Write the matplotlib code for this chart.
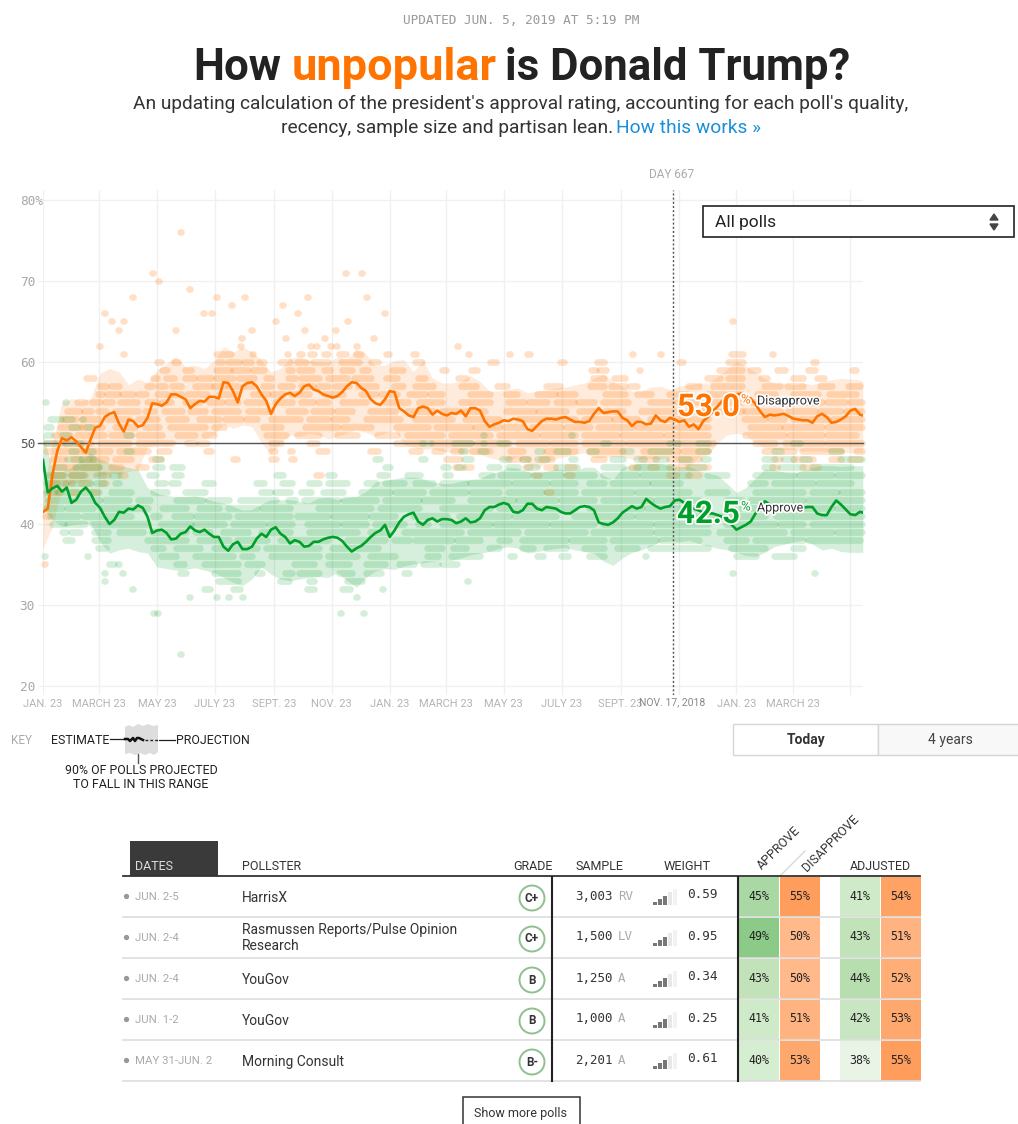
import numpy as np
import matplotlib
matplotlib.use("Agg")
from matplotlib import pyplot as plt
from matplotlib import patheffects as pe
from matplotlib.collections import LineCollection
from matplotlib.colors import LinearSegmentedColormap, Normalize
from matplotlib.patches import Circle, Polygon, Rectangle

# days since Jan. 23, 2017
line_days = list(range(0, 865, 5)) + [863]
disapprove = [41.5, 41.9, 46.1, 49.0, 50.6, 50.3, 50.7, 50.2, 49.5, 48.8, 50.4, 51.9, 52.1, 53.2, 53.6, 53.8, 52.4, 51.4, 52.9, 52.7,
              52.0, 52.2, 53.1, 54.9, 54.8, 54.6, 55.0, 56.0, 56.0, 55.7, 55.4, 54.3, 54.8, 55.2, 55.1, 55.7, 55.7, 55.5, 57.5, 57.4,
              56.4, 55.0, 57.0, 57.4, 57.5, 57.0, 56.0, 55.2, 53.6, 54.8, 55.5, 56.0, 56.2, 55.8, 56.2, 57.0, 57.2, 56.6, 56.4, 56.0,
              55.8, 55.6, 55.8, 56.3, 57.0, 57.5, 57.4, 56.8, 56.4, 55.4, 54.9, 54.7, 55.4, 56.4, 56.3, 54.3, 53.9, 53.4, 53.2, 54.3,
              54.5, 54.3, 53.5, 54.0, 53.6, 53.4, 53.7, 53.6, 54.0, 53.3, 54.3, 54.3, 54.0, 52.7, 52.0, 52.3, 52.5, 52.8, 52.7, 53.0,
              52.9, 52.7, 51.7, 51.5, 52.1, 52.7, 53.0, 53.0, 52.9, 53.1, 53.2, 52.9, 52.6, 52.6, 52.5, 52.7, 53.6, 54.3, 53.7, 53.8,
              53.9, 53.9, 53.1, 52.8, 52.1, 52.6, 52.6, 52.3, 52.4, 53.4, 52.8, 52.6, 53.1, 52.9, 52.6, 52.8, 52.0, 52.3, 51.7, 52.7,
              53.2, 53.9, 54.5, 55.2, 55.6, 55.8, 56.0, 56.1, 55.8, 55.5, 54.8, 53.9, 53.2, 53.5, 53.4, 53.5, 53.6, 53.3, 53.0, 52.9,
              52.8, 52.8, 52.5, 53.3, 53.6, 53.2, 52.5, 52.6, 52.9, 53.3, 54.0, 54.2, 53.5, 53.4]
approve = [47.9, 43.9, 44.4, 44.7, 44.0, 44.5, 42.6, 43.0, 44.0, 44.5, 43.8, 42.6, 42.0, 40.9, 40.0, 40.5, 41.5, 41.4, 41.9, 41.8,
           42.3, 42.0, 40.9, 38.9, 39.2, 39.3, 38.9, 38.1, 38.2, 38.8, 39.0, 39.7, 39.2, 39.0, 39.3, 38.8, 38.4, 38.4, 37.2, 36.7,
           37.5, 37.8, 36.9, 36.9, 37.2, 38.2, 38.8, 38.4, 39.3, 39.6, 38.8, 38.4, 37.6, 38.0, 37.8, 37.2, 37.3, 37.8, 37.8, 38.1,
           38.3, 38.4, 38.3, 37.9, 37.2, 36.6, 37.0, 37.3, 37.8, 38.4, 38.9, 39.2, 39.9, 38.4, 39.2, 40.2, 40.9, 41.2, 41.4, 40.3,
           39.9, 40.5, 40.7, 40.3, 40.6, 40.6, 40.5, 40.1, 40.3, 40.7, 40.2, 40.3, 40.7, 41.7, 42.1, 42.1, 42.4, 42.6, 42.4, 41.5,
           41.4, 41.7, 42.5, 42.5, 41.9, 41.7, 42.1, 42.0, 41.9, 41.5, 41.3, 41.3, 41.7, 42.1, 42.2, 42.1, 41.7, 40.2, 40.0, 39.9,
           40.2, 40.7, 41.4, 41.8, 42.2, 41.9, 42.1, 43.1, 42.6, 42.2, 41.9, 42.1, 42.2, 42.9, 43.0, 42.6, 42.2, 41.9, 41.7, 41.4,
           41.3, 41.3, 41.1, 40.9, 40.5, 39.9, 39.3, 39.6, 39.9, 40.3, 41.3, 42.1, 42.8, 42.4, 42.1, 41.9, 41.9, 41.9, 41.9, 41.9,
           42.0, 42.1, 42.1, 41.3, 41.1, 41.1, 42.1, 42.9, 42.4, 41.8, 41.2, 41.1, 41.5, 41.4]

band_days = list(range(0, 865, 10)) + [863]
disapprove_hi = [44, 50, 55, 55.5, 55.2, 55.5, 58.6, 59.2, 58.8, 57.2, 57.9, 57.4, 59, 59.8, 60.7, 59.4, 59.6, 59.2, 60.2, 61.9,
                 61.2, 61.8, 61.3, 60.2, 58.8, 59.2, 60.5, 60.6, 60.2, 60, 60, 60.6, 60.4, 61.6, 61, 59.5, 59.6, 60.2, 60.3, 58.8,
                 60.2, 58, 57.4, 57.4, 57.6, 58.3, 57.6, 56.4, 56.4, 56.6, 56.8, 56.2, 56.4, 56.6, 56.8, 56.9, 57.2, 57.4, 58, 58.5,
                 57.6, 57, 56.4, 56.4, 56.9, 57, 56.6, 57, 57.2, 57.4, 57.4, 58.2, 59.1, 60.1, 59.5, 58.7, 57.9, 57.4, 57.4, 57.2,
                 57.4, 57.2, 57.6, 57.8, 58, 57.9, 57.8, 57.5]
disapprove_lo = [37, 39.7, 44.5, 45, 45.3, 45.5, 46, 46.3, 46.2, 46.5, 46.7, 49.5, 49.8, 49.6, 50, 50.2, 50.4, 50.5, 51, 52.3,
                 51.8, 52.2, 52, 50, 48.7, 50, 51, 50.8, 51.2, 51, 50.5, 50.8, 51.2, 51.7, 51.3, 50.8, 51.2, 51.6, 49.8, 49.5,
                 49.2, 49.3, 49, 48.8, 48.8, 48.6, 48.6, 48.2, 47.9, 47.9, 48.3, 47.6, 46.8, 47.6, 48.1, 48.3, 48.6, 48.8, 48.2, 48.2,
                 48.3, 48.3, 48, 48, 48.1, 48, 48.4, 47.5, 47.1, 48.2, 48.6, 50, 51, 51.2, 51, 50, 49.4, 49.2, 49.2, 49.2,
                 49, 49, 49, 48.9, 48.8, 48.8, 48.8, 48.8]
approve_hi = [51.2, 46.5, 46.5, 47, 47.8, 48.8, 48, 47.5, 47.2, 47, 46.7, 44.5, 43.8, 43.5, 43.4, 43.4, 43.5, 43.2, 42.8, 42.6,
              42.2, 41.7, 41.8, 42.5, 43, 43, 43, 42.8, 42.6, 43.2, 43.3, 43, 43.3, 43.4, 44, 45.2, 45.4, 45.6, 45.8, 45.8,
              45.6, 45.2, 45, 45, 45.3, 45.5, 45.6, 46.2, 46.5, 47, 46.9, 46.5, 46.3, 46.5, 46.8, 46.7, 46.6, 47, 47, 46,
              45.5, 47, 47.3, 47.5, 47.5, 47.5, 47.2, 47.1, 47.1, 46.6, 46.3, 46, 45, 43.9, 44.5, 45.7, 46.8, 46.7, 46.4, 46.3,
              46.6, 47, 47.2, 47.2, 47.1, 47.2, 47.2, 47.2]
approve_lo = [42, 40.5, 39.7, 39.9, 40, 40.1, 37.8, 36.4, 36.8, 37, 36.6, 36.4, 34.7, 34.5, 34.3, 34.4, 34.6, 34.3, 34, 33.4,
              32.8, 32.4, 33.2, 34.7, 33.8, 33.2, 33, 33.2, 33.4, 33.5, 33.4, 34, 33, 32.2, 33.4, 34.2, 34.5, 34.4, 34.8, 35.1,
              35.2, 35.4, 35.5, 35.5, 35.8, 36.2, 36.4, 36.6, 37, 37.2, 37, 36.4, 36.6, 36.8, 37, 37.1, 36.8, 36.6, 36.4, 35.4,
              34.9, 35.8, 36.5, 36.8, 37.3, 37.8, 37.9, 37.8, 38, 37.6, 37.3, 37, 36.8, 36.5, 36.1, 36, 36.5, 37.2, 37.5, 37.8,
              38, 37.5, 36.8, 37, 36.6, 36.5, 36.5, 36.5]

# polls sit on whole percentages and merge into pills: (level, [(first day, last day), ...])
disapprove_polls = [
    (76, [(145, 145)]),
    (71, [(115, 115), (318, 318), (335, 335)]),
    (70, [(122, 122)]),
    (69, [(154, 154), (160, 160)]),
    (68, [(94, 94), (183, 183), (212, 212), (278, 278), (341, 341)]),
    (67, [(198, 198), (252, 252)]),
    (66, [(65, 65), (169, 169), (177, 177), (268, 268), (359, 359)]),
    (65, [(72, 72), (85, 85), (245, 245), (321, 321), (726, 726)]),
    (64, [(79, 79), (139, 139), (219, 219), (275, 275), (308, 308)]),
    (63, [(209, 209), (255, 255), (296, 296), (348, 348)]),
    (62, [(59, 59), (208, 208), (282, 282), (288, 288), (303, 303), (309, 309), (330, 330), (436, 436)]),
    (61, [(85, 85), (183, 197), (221, 221), (257, 257), (270, 272), (282, 285), (296, 300), (312, 318), (330, 334), (362, 364), (390, 392), (448, 448), (491, 491), (510, 512), (621, 621), (650, 650), (725, 736), (768, 768)]),
    (60, [(121, 124), (138, 142), (185, 188), (195, 206), (212, 218), (228, 232), (250, 260), (268, 276), (285, 300), (314, 332), (346, 352), (392, 398), (471, 476), (545, 548), (584, 590), (670, 673), (722, 736), (811, 813)]),
    (59, [(126, 130), (150, 155), (183, 196), (200, 215), (222, 232), (258, 262), (270, 283), (296, 302), (315, 325), (336, 342), (368, 378), (420, 424), (451, 456), (577, 582), (586, 592), (628, 628), (712, 735), (745, 752), (773, 781), (806, 812), (852, 855)]),
    (58, [(46, 53), (116, 120), (130, 137), (150, 158), (165, 176), (183, 200), (207, 222), (235, 240), (258, 265), (272, 290), (300, 320), (328, 345), (362, 372), (395, 402), (437, 445), (580, 590), (602, 612), (700, 712), (722, 735), (756, 762), (790, 800), (815, 822)]),
    (57, [(60, 66), (72, 80), (110, 114), (122, 128), (136, 145), (160, 176), (180, 190), (195, 205), (212, 222), (232, 240), (250, 262), (272, 284), (290, 300), (308, 322), (332, 350), (370, 378), (392, 410), (440, 455), (478, 488), (530, 544), (576, 590), (598, 612), (618, 625), (680, 690), (706, 735), (760, 775), (784, 800), (818, 830), (848, 860)]),
    (56, [(20, 20), (58, 62), (68, 78), (84, 94), (100, 108), (120, 130), (136, 145), (152, 172), (186, 205), (222, 236), (242, 252), (262, 280), (296, 315), (335, 350), (356, 372), (386, 402), (408, 420), (450, 470), (488, 498), (520, 538), (544, 560), (592, 612), (626, 640), (660, 678), (700, 716), (722, 735), (752, 770), (790, 815), (828, 855)]),
    (55, [(36, 44), (52, 60), (66, 72), (82, 98), (110, 120), (126, 134), (150, 165), (175, 188), (194, 205), (214, 232), (245, 262), (272, 284), (290, 300), (315, 340), (360, 384), (396, 420), (440, 470), (490, 506), (512, 530), (540, 558), (564, 580), (590, 615), (640, 662), (668, 690), (700, 735), (745, 766), (772, 790), (800, 820), (826, 844), (850, 862)]),
    (54, [(26, 38), (44, 50), (58, 66), (76, 100), (108, 116), (128, 146), (155, 170), (180, 205), (216, 240), (258, 275), (285, 304), (310, 325), (345, 370), (384, 410), (420, 440), (446, 465), (488, 516), (522, 550), (565, 585), (592, 610), (630, 665), (680, 706), (712, 735), (740, 775), (785, 812), (818, 840), (846, 862)]),
    (53, [(20, 34), (42, 58), (68, 90), (100, 120), (132, 150), (165, 185), (192, 208), (214, 225), (240, 270), (280, 300), (306, 320), (340, 375), (392, 430), (445, 480), (500, 530), (536, 560), (570, 596), (602, 625), (640, 668), (674, 700), (738, 760), (766, 780), (790, 826), (832, 862)]),
    (52, [(18, 38), (42, 62), (76, 96), (108, 122), (134, 170), (180, 190), (232, 250), (276, 310), (316, 345), (372, 405), (414, 450), (455, 480), (486, 505), (515, 545), (551, 575), (585, 620), (626, 662), (668, 700), (745, 775), (781, 820), (826, 862)]),
    (51, [(12, 28), (36, 64), (72, 92), (100, 125), (142, 160), (170, 180), (235, 255), (268, 290), (310, 330), (352, 372), (384, 420), (430, 470), (480, 520), (526, 560), (570, 604), (610, 650), (656, 700), (740, 780), (786, 820), (826, 855)]),
    (50, [(4, 20), (24, 50), (60, 90), (100, 135), (152, 160), (165, 172), (240, 250), (280, 288), (372, 400), (410, 450), (456, 490), (500, 530), (536, 560), (570, 610), (616, 660), (666, 705), (750, 770), (782, 820), (826, 862)]),
    (49, [(4, 12), (18, 40), (44, 70), (80, 110), (123, 132), (172, 176), (240, 244), (260, 262), (290, 298), (345, 352), (388, 396), (412, 420), (432, 440), (452, 470), (492, 505), (530, 560), (575, 610), (632, 668), (674, 700), (760, 790), (800, 840), (856, 862)]),
    (48, [(10, 22), (32, 48), (52, 66), (76, 92), (114, 124), (200, 204), (240, 245), (262, 264), (425, 438), (490, 500), (505, 510), (525, 535), (580, 590), (630, 645), (660, 690), (770, 775), (790, 810), (830, 840), (850, 860)]),
    (47, [(12, 34), (42, 58), (72, 82), (100, 108), (434, 438), (445, 450), (508, 512), (530, 538), (552, 558), (620, 626), (640, 645), (660, 700), (768, 772), (800, 815)]),
    (46, [(10, 20), (30, 42), (60, 68), (82, 86), (288, 292), (518, 522), (552, 556), (660, 666), (680, 690)]),
    (45, [(10, 14), (24, 30), (40, 48), (62, 66)]),
    (44, [(14, 18), (30, 34), (52, 56), (530, 534)]),
    (41, [(3, 6)]),
    (35, [(2, 2)]),
]
approve_polls = [
    (55, [(3, 3), (24, 24)]),
    (53, [(8, 18), (24, 30), (42, 42)]),
    (52, [(4, 8), (30, 35), (46, 50)]),
    (51, [(4, 8), (20, 26), (88, 92), (464, 464), (556, 556)]),
    (50, [(4, 12), (24, 28), (34, 40), (399, 408), (433, 450), (464, 464), (481, 488), (590, 594), (660, 668), (690, 700), (790, 796)]),
    (49, [(30, 34), (48, 52), (88, 92), (440, 444), (460, 466), (520, 525), (540, 552), (575, 582), (610, 618), (640, 660), (690, 700), (770, 776), (830, 840)]),
    (48, [(26, 38), (40, 52), (118, 124), (350, 354), (398, 402), (444, 450), (484, 490), (505, 510), (520, 530), (556, 560), (600, 610), (625, 632), (645, 655), (672, 680), (695, 700), (760, 770), (780, 790), (800, 806), (840, 862)]),
    (47, [(14, 22), (34, 58), (118, 125), (136, 146), (360, 365), (422, 426), (436, 442), (470, 480), (490, 500), (510, 520), (540, 562), (590, 610), (625, 660), (680, 695), (760, 768), (776, 800), (810, 850)]),
    (46, [(6, 22), (30, 44), (56, 64), (72, 80), (112, 118), (138, 145), (246, 252), (300, 306), (354, 362), (384, 396), (424, 428), (462, 472), (482, 510), (516, 545), (551, 580), (590, 625), (631, 680), (700, 720), (750, 790), (796, 830), (836, 862)]),
    (45, [(4, 24), (30, 50), (56, 64), (76, 80), (120, 128), (135, 142), (170, 178), (225, 232), (252, 262), (280, 290), (300, 320), (340, 350), (360, 380), (392, 410), (420, 445), (450, 490), (496, 530), (536, 560), (575, 590), (600, 636), (642, 670), (745, 760), (770, 810), (816, 850)]),
    (44, [(4, 12), (16, 36), (42, 58), (72, 92), (116, 130), (150, 170), (230, 240), (245, 260), (272, 282), (295, 315), (335, 365), (371, 400), (410, 445), (451, 480), (490, 525), (531, 560), (570, 620), (626, 680), (700, 720), (750, 800), (810, 835), (841, 862)]),
    (43, [(6, 28), (34, 60), (66, 90), (100, 112), (140, 168), (174, 195), (208, 245), (258, 265), (275, 310), (316, 350), (360, 395), (401, 430), (450, 495), (501, 540), (546, 580), (590, 640), (646, 690), (720, 735), (745, 800), (806, 862)]),
    (42, [(4, 20), (26, 52), (60, 110), (126, 150), (165, 185), (195, 225), (231, 260), (290, 345), (355, 395), (420, 470), (480, 520), (526, 560), (575, 630), (636, 700), (735, 790), (796, 830), (836, 862)]),
    (41, [(8, 36), (44, 92), (116, 122), (138, 155), (162, 195), (205, 260), (268, 300), (306, 340), (346, 370), (390, 425), (438, 490), (496, 540), (560, 620), (626, 690), (700, 760), (772, 820), (826, 862)]),
    (40, [(10, 22), (26, 44), (52, 110), (125, 155), (161, 190), (200, 232), (238, 262), (278, 310), (316, 340), (350, 380), (395, 405), (420, 470), (476, 530), (536, 580), (590, 640), (646, 700), (720, 770), (776, 800), (810, 862)]),
    (39, [(20, 24), (30, 38), (54, 68), (80, 105), (115, 150), (160, 175), (190, 215), (230, 260), (280, 330), (345, 362), (380, 440), (450, 500), (510, 570), (580, 640), (646, 700), (712, 780), (790, 830), (836, 862)]),
    (38, [(24, 30), (54, 68), (110, 150), (165, 195), (205, 235), (250, 300), (320, 360), (370, 385), (392, 430), (436, 460), (480, 490), (505, 550), (556, 590), (600, 645), (651, 690), (720, 740), (750, 800), (806, 860)]),
    (37, [(58, 66), (116, 126), (140, 165), (180, 225), (235, 290), (305, 352), (405, 420), (432, 445), (470, 480), (505, 515), (530, 550), (570, 590), (605, 625), (640, 700), (725, 760), (790, 800)]),
    (36, [(2, 2), (47, 47), (125, 140), (160, 200), (210, 220), (240, 290), (300, 330), (345, 370), (405, 415), (430, 460), (492, 495), (520, 526), (546, 552), (575, 590), (634, 634), (730, 750), (770, 790)]),
    (35, [(70, 74), (79, 79), (140, 148), (170, 205), (215, 230), (265, 285), (300, 322), (340, 360), (375, 390), (400, 415), (420, 435)]),
    (34, [(65, 65), (84, 84), (145, 150), (180, 205), (226, 230), (255, 262), (270, 290), (312, 325), (340, 355), (380, 385), (726, 726), (812, 812)]),
    (33, [(65, 65), (185, 205), (250, 258), (280, 285), (320, 335), (447, 447)]),
    (32, [(94, 94), (170, 175), (200, 207), (278, 285), (315, 323), (357, 357)]),
    (31, [(154, 154), (183, 183), (195, 195), (210, 210), (330, 330)]),
    (30, [(160, 160)]),
    (29, [(116, 116), (121, 121), (313, 313), (337, 337)]),
    (24, [(145, 145)]),
]

tick_days = [0, 59, 120, 181, 243, 304, 365, 424, 485, 546, 608, 669, 730, 789, 850]
tick_labels = ["JAN. 23", "MARCH 23", "MAY 23", "JULY 23", "SEPT. 23", "NOV. 23", "JAN. 23", "MARCH 23",
               "MAY 23", "JULY 23", "SEPT. 23", "", "JAN. 23", "MARCH 23", ""]
y_ticks = [20, 30, 40, 50, 60, 70, 80]
y_labels = ["20", "30", "40", "50", "60", "70", "80%"]
marker_day = 663
marker_date = "NOV. 17, 2018"
marker_name = "DAY 667"
approve_now = 42.5
disapprove_now = 53.0

dates = ["JUN. 2-5", "JUN. 2-4", "JUN. 2-4", "JUN. 1-2", "MAY 31-JUN. 2"]
pollsters = ["HarrisX", "Rasmussen Reports/Pulse Opinion\nResearch", "YouGov", "YouGov", "Morning Consult"]
grades = ["C+", "C+", "B", "B", "B-"]
samples = ["3,003", "1,500", "1,250", "1,000", "2,201"]
populations = ["RV", "LV", "A", "A", "A"]
weights = [0.59, 0.95, 0.34, 0.25, 0.61]
weight_bars = [3, 3, 3, 3, 3]
poll_approve = [45, 49, 43, 41, 40]
poll_disapprove = [55, 50, 50, 51, 53]
adj_approve = [41, 43, 44, 42, 38]
adj_disapprove = [54, 51, 52, 53, 55]

ORANGE = "#ff7400"
GREEN = "#009f29"
SANS = "Roboto"
MONO = "DejaVu Sans Mono"

W, H = 1018, 1124
plt.rcParams["font.family"] = SANS
fig = plt.figure(figsize=(W / 100, H / 100), dpi=100)


def px_rect(left, top, right, bottom):
    return [left / W, 1 - bottom / H, (right - left) / W, (bottom - top) / H]


def poll_pills(ax, polls, color, alpha):
    segs = []
    for level, runs in polls:
        for first, last in runs:
            segs.append([(first - 0.5, level), (last + 0.5, level)])
    pills = LineCollection(segs, colors=color, linewidths=4.8, alpha=alpha, capstyle="round", zorder=3)
    pills.set_clip_on(False)
    ax.add_collection(pills)


ax = fig.add_axes(px_rect(43, 190, 863, 695))
ax.set_xlim(0, 863.2)
ax.set_ylim(18.89, 81.23)
for s in ax.spines.values():
    s.set_visible(False)
ax.set_xticks(tick_days)
ax.set_xticklabels(tick_labels, fontsize=8, color="#b5b5b5")
ax.set_yticks(y_ticks)
ax.set_yticklabels(y_labels, fontsize=9.2, family=MONO, color="#a8a8a8", ha="left")
ax.tick_params(axis="x", length=0, pad=3)
ax.tick_params(axis="y", length=3.6, color="#eeeeee", pad=13.2)
ax.get_yticklabels()[3].set_color("#555555")
ax.grid(True, color="#f0f0f0", linewidth=1)
ax.set_axisbelow(True)

ax.fill_between(band_days, disapprove_lo, disapprove_hi, color=ORANGE, alpha=0.14, linewidth=0, zorder=2)
ax.fill_between(band_days, approve_lo, approve_hi, color=GREEN, alpha=0.16, linewidth=0, zorder=2)
poll_pills(ax, disapprove_polls, ORANGE, 0.22)
poll_pills(ax, approve_polls, GREEN, 0.17)
ax.plot([-5, 863], [50, 50], color="#555555", linewidth=1, clip_on=False, zorder=4)
ax.axvline(marker_day, color="#555555", linewidth=1, linestyle=(0, (1.5, 1.5)), zorder=4)
ax.plot(line_days, disapprove, color=ORANGE, linewidth=1.9, zorder=5, solid_joinstyle="round")
ax.plot(line_days, approve, color=GREEN, linewidth=1.9, zorder=5, solid_joinstyle="round")

# everything else is laid out in pixels on a full-size overlay
top = fig.add_axes([0, 0, 1, 1], facecolor="none", zorder=5)
top.set_xlim(0, W)
top.set_ylim(H, 0)
top.axis("off")

top.text(521, 20, "UPDATED JUN. 5, 2019 AT 5:19 PM", family=MONO, fontsize=9.2, color="#999999", ha="center", va="center")
top.text(193, 68, "How", fontsize=31.5, fontweight="bold", color="#222222", va="center")
top.text(292, 68, "unpopular", fontsize=32.5, fontweight="bold", color=ORANGE, va="center")
top.text(505, 68, "is Donald Trump?", fontsize=31.5, fontweight="bold", color="#222222", va="center")
top.text(521, 104, "An updating calculation of the president's approval rating, accounting for each poll's quality,",
         fontsize=13.75, color="#333333", ha="center", va="center")
top.text(281, 128, "recency, sample size and partisan lean.", fontsize=13.75, color="#333333", va="center")
top.text(616, 128, "How this works \u00bb", fontsize=13.75, color="#1a8fd9", va="center")

top.text(672, 175, marker_name, fontsize=8.5, color="#aaaaaa", ha="center", va="center")
top.text(672, 702, marker_date, fontsize=7.5, color="#888888", ha="center", va="center")

# dropdown
top.add_patch(Rectangle((703, 206), 311, 31, facecolor="white", edgecolor="#222222", linewidth=1.2))
top.text(715, 222, "All polls", fontsize=12.5, color="#222222", va="center")
top.add_patch(Polygon([(990, 220), (998, 220), (994, 214)], color="#444444"))
top.add_patch(Polygon([(990, 224), (998, 224), (994, 230)], color="#444444"))

# current values, a white halo knocks them out of the lines
halo = [pe.withStroke(linewidth=2.5, foreground="white")]
for now, color, name, y_big, y_small in [(disapprove_now, ORANGE, "Disapprove", 407, 401),
                                         (approve_now, GREEN, "Approve", 514, 508)]:
    top.text(677, y_big, "%.1f" % now, fontsize=22.5, fontweight="bold", color=color, va="center", path_effects=halo)
    top.text(741, y_small - 1, "%", fontsize=9.5, color=color, va="center", path_effects=halo)
    top.text(757, y_small, name, fontsize=9, color="#333333", va="center", path_effects=halo)

# key
top.text(11, 741, "KEY", fontsize=8.5, color="#aaaaaa", va="center")
top.text(51, 741, "ESTIMATE", fontsize=8.9, color="#222222", va="center")
top.text(176, 741, "PROJECTION", fontsize=8.9, color="#222222", va="center")
top.add_patch(Polygon([(125, 727), (129, 725), (133, 727), (138, 724), (143, 726), (148, 724), (153, 726), (158, 725),
                       (158, 752), (154, 755), (150, 753), (145, 755), (140, 753), (135, 755), (130, 753), (125, 754)],
                      facecolor="#dddddd", edgecolor="none"))
top.plot([110, 125], [739, 739], color="#222222", linewidth=0.9)
top.plot([125, 128, 130, 133, 135, 137, 139, 143], [739, 739, 741, 738, 741, 738, 738, 740], color="#111111", linewidth=1.8)
top.plot([145, 158], [740, 740], color="#222222", linewidth=1, linestyle=(0, (2, 1.5)))
top.plot([159, 175], [740, 740], color="#222222", linewidth=0.9)
top.plot([138, 138], [754, 763], color="#555555", linewidth=1)
top.text(141, 771, "90% OF POLLS PROJECTED", fontsize=8.9, color="#222222", ha="center", va="center")
top.text(141, 785, "TO FALL IN THIS RANGE", fontsize=8.9, color="#222222", ha="center", va="center")

# toggle
top.add_patch(Rectangle((733, 724), 145, 31, facecolor="white", edgecolor="#d5d5d5", linewidth=1))
top.add_patch(Rectangle((878, 724), 142, 31, facecolor="#f8f8f8", edgecolor="#d5d5d5", linewidth=1))
top.text(806, 740, "Today", fontsize=10, fontweight="bold", color="#333333", ha="center", va="center")
top.text(950, 740, "4 years", fontsize=10, color="#444444", ha="center", va="center")

# table head
top.add_patch(Rectangle((130, 841), 88, 35, facecolor="#3a3a3a", edgecolor="none"))
top.text(135, 866, "DATES", fontsize=9, color="#dddddd", va="center")
top.text(242, 866, "POLLSTER", fontsize=9, color="#333333", va="center")
top.text(533, 866, "GRADE", fontsize=9, color="#333333", ha="center", va="center")
top.text(599, 866, "SAMPLE", fontsize=9, color="#333333", ha="center", va="center")
top.text(687, 866, "WEIGHT", fontsize=9.2, color="#333333", ha="center", va="center")
top.text(880, 866, "ADJUSTED", fontsize=9, color="#333333", ha="center", va="center")
top.text(779, 848, "APPROVE", fontsize=9, color="#333333", ha="center", va="center", rotation=45, rotation_mode="anchor")
top.text(831, 843, "DISAPPROVE", fontsize=9, color="#333333", ha="center", va="center", rotation=45, rotation_mode="anchor")
top.plot([780, 805], [876, 851], color="#d8d8d8", linewidth=1)

approve_cmap = LinearSegmentedColormap.from_list("a", [(0, "#eaf4e6"), (2 / 11, "#d5edd0"), (5 / 11, "#c2e3ba"),
                                                       (7 / 11, "#a9d8a4"), (1, "#8ccb87")])
disapprove_cmap = LinearSegmentedColormap.from_list("d", ["#ffb98a", "#ff9d5c"])
approve_norm = Normalize(38, 49)
disapprove_norm = Normalize(50, 55)

for i in range(len(dates)):
    y0 = 877 + 41 * i
    yc = y0 + 20
    top.plot([123, 920], [y0 + 40, y0 + 40], color="#dddddd", linewidth=1.2)
    top.plot(126, yc - 1, "o", color="#999999", markersize=2.8)
    top.text(135, yc, dates[i], fontsize=8.2, color="#aaaaaa", va="center")
    top.text(242, yc + (1 if "\n" not in pollsters[i] else 0), pollsters[i], fontsize=10, color="#333333", va="center", linespacing=1.1)
    top.add_patch(Circle((532, yc + 1), 12.5, facecolor="white", edgecolor="#8fc08f", linewidth=1.4))
    top.text(532, yc + 1, grades[i], fontsize=8.5, fontweight="bold", color="#333333", ha="center", va="center")
    top.text(613, yc - 1, samples[i], family=MONO, fontsize=9, color="#333333", ha="right", va="center")
    top.text(618, yc - 1, populations[i], family=MONO, fontsize=9, color="#aaaaaa", va="center")
    for b, h in enumerate([3, 6, 9, 13, 16]):
        shade = "#777777" if b < weight_bars[i] else "#e8e8e8" if b == weight_bars[i] else "#f2f2f2"
        top.add_patch(Rectangle((653 + 5 * b, yc + 8 - h), 4, h, facecolor=shade, edgecolor="none"))
    top.text(687, yc - 2, "%.2f" % weights[i], family=MONO, fontsize=9.2, color="#333333", va="center")
    for left, value, cmap, norm in [(739, poll_approve[i], approve_cmap, approve_norm),
                                    (780, poll_disapprove[i], disapprove_cmap, disapprove_norm),
                                    (840, adj_approve[i], approve_cmap, approve_norm),
                                    (881, adj_disapprove[i], disapprove_cmap, disapprove_norm)]:
        top.add_patch(Rectangle((left, y0), 40, 40, facecolor=cmap(norm(value)), edgecolor="none"))
        top.text(left + 20, yc - 1, "%d%%" % value, family=MONO, fontsize=8.4, color="#222222", ha="center", va="center")

top.plot([123, 920], [876, 876], color="#333333", linewidth=1.3)
top.plot([552, 552], [877, 1081], color="#222222", linewidth=1.5)
top.plot([738, 738], [877, 1081], color="#222222", linewidth=1.5)

top.add_patch(Rectangle((463, 1097), 117, 40, facecolor="white", edgecolor="#333333", linewidth=1.1))
top.text(521, 1113, "Show more polls", fontsize=9, color="#333333", ha="center", va="center")

fig.savefig("out.png", dpi=100)
